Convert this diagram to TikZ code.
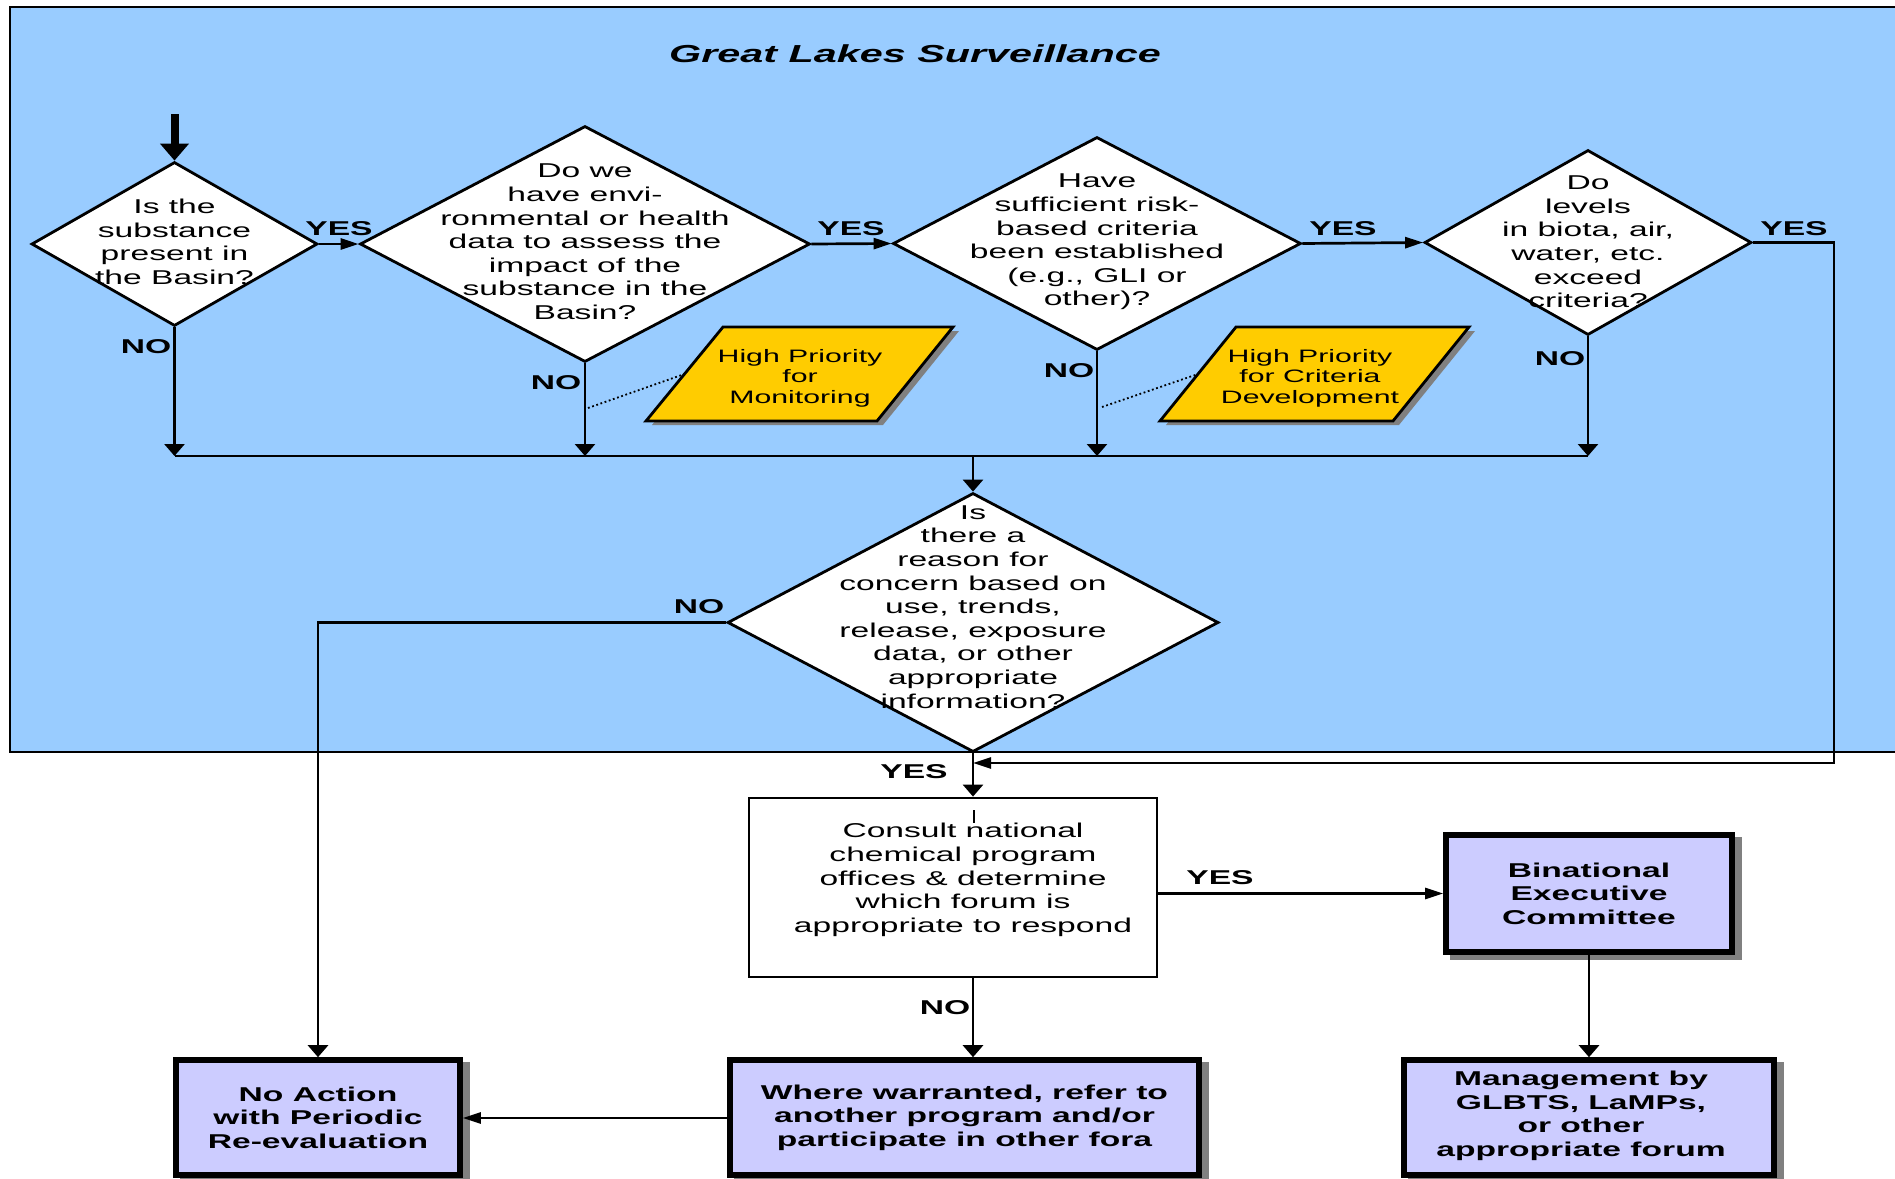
\documentclass[tikz,border=0pt]{standalone}
\usepackage{fontspec}
\setmainfont{Liberation Sans}[FakeStretch=1.68]
\usetikzlibrary{arrows.meta,shapes.geometric,shadows}
\definecolor{lakeblue}{HTML}{99CCFF}
\definecolor{prioyellow}{HTML}{FFCC00}
\definecolor{boxlav}{HTML}{CCCCFF}
\definecolor{shadowgray}{HTML}{808080}
\tikzset{
 conn/.style={line width=1.35pt},
 harr/.style={conn, -{Triangle[length=9pt,width=5.5pt]}},
 varr/.style={conn, -{Triangle[length=6pt,width=10pt]}},
 startarr/.style={line width=4pt, -{Triangle[length=8.5pt,width=14pt]}},
 dia/.style={diamond, draw, fill=white, line width=1.4pt, inner sep=0pt},
 dtext/.style={align=center, font=\fontsize{10}{11.8}\selectfont, inner sep=0pt},
 lbl/.style={font=\bfseries\fontsize{10}{12}\selectfont, inner sep=0pt},
 titlestyle/.style={font=\bfseries\itshape\fontsize{12.3}{14}\selectfont, inner sep=0pt},
 ptext/.style={align=center, font=\fontsize{9}{10.25}\selectfont, inner sep=0pt},
 para/.style={fill=prioyellow, draw=black, line width=1.4pt, line join=miter},
 pshadow/.style={fill=shadowgray},
 bigbox/.style={rectangle, draw, fill=boxlav, line width=2.8pt, align=center,
   font=\bfseries\fontsize{10}{11.75}\selectfont, inner sep=0pt,
   drop shadow={shadow xshift=3.5pt, shadow yshift=-2.5pt, fill=shadowgray, draw=shadowgray, line width=2.8pt, opacity=1}},
 plainbox/.style={rectangle, draw, fill=white, line width=1.4pt, inner sep=0pt},
 dotline/.style={line width=0.9pt, dash pattern=on 0.9pt off 1.3pt},
}
\begin{document}
\begin{tikzpicture}[x=0.5pt,y=-0.5pt]
\useasboundingbox (0,0) rectangle (1895,1178);
% background region
\fill[lakeblue, draw=black, line width=1.4pt] (10,7) rectangle (1920,752);
\node[titlestyle] (ttl) at (915,54) {Great Lakes Surveillance};

% diamonds
\node[dia, minimum width=143pt, minimum height=82pt] (d1) at (174.5,244) {};
\node[dia, minimum width=225pt, minimum height=118pt] (d2) at (585,244) {};
\node[dia, minimum width=204pt, minimum height=106.5pt] (d3) at (1097,243.5) {};
\node[dia, minimum width=163.5pt, minimum height=92.5pt] (d4) at (1588,242.5) {};
\node[dia, minimum width=245.5pt, minimum height=129.5pt] (d5) at (973,622.5) {};

\node[dtext] (t1) at (174.5,242) {Is the\\substance\\present in\\the Basin?};
\node[dtext] (t2) at (585,242) {Do we\\have envi-\\ronmental or health\\data to assess the\\impact of the\\substance in the\\Basin?};
\node[dtext] (t3) at (1097,242) {Have\\sufficient risk-\\based criteria\\been established\\(e.g., GLI or\\other)?};
\node[dtext] (t4) at (1588,242) {Do\\levels\\in biota, air,\\water, etc.\\exceed\\criteria?};
\node[dtext] (t5) at (973,607) {Is\\there a\\reason for\\concern based on\\use, trends,\\release, exposure\\data, or other\\appropriate\\information?};

% start arrow
\coordinate (start) at (174.5,114);
\draw[startarr] (start) -- (d1.north);

% yes arrows along top row
\draw[harr] (d1.east) -- (d2.west);
\draw[harr] (d2.east) -- (d3.west);
\draw[harr] (d3.east) -- (d4.west);
\node[lbl] (y1) at (339,229) {YES};
\node[lbl] (y2) at (851,229) {YES};
\node[lbl] (y3) at (1343,229) {YES};
\node[lbl] (y4) at (1794,229) {YES};

% NO branches to collecting bus
\coordinate (bus) at (0,456);
\draw[varr] (d1.south) -- (d1.south |- bus);
\draw[varr] (d2.south) -- (d2.south |- bus);
\draw[varr] (d3.south) -- (d3.south |- bus);
\draw[varr] (d4.south) -- (d4.south |- bus);
\draw[conn] (d1.south |- bus) -- (d4.south |- bus);
\draw[varr] (d5.north |- bus) -- (d5.north);
\node[lbl] (n1) at (146,347) {NO};
\node[lbl] (n2) at (556,383) {NO};
\node[lbl] (n3) at (1069,371) {NO};
\node[lbl] (n4) at (1560,359) {NO};

% priority parallelograms
\fill[pshadow, xshift=3pt, yshift=-2pt] (723,327) -- (953,327) -- (877,421) -- (646,421) -- cycle;
\filldraw[para] (723,327) -- (953,327) -- (877,421) -- (646,421) -- cycle;
\node[ptext] (p1) at (800,378) {High Priority\\for\\Monitoring};
\fill[pshadow, xshift=3pt, yshift=-2pt] (1236,327) -- (1469,327) -- (1393,421) -- (1160,421) -- cycle;
\filldraw[para] (1236,327) -- (1469,327) -- (1393,421) -- (1160,421) -- cycle;
\node[ptext] (p2) at (1310,378) {High Priority\\for Criteria\\Development};
\coordinate (dot1) at (588,408);
\coordinate (p1w) at (684.5,374);
\coordinate (dot2) at (1102,407);
\coordinate (p2w) at (1198,374);
\draw[dotline] (dot1) -- (p1w);
\draw[dotline] (dot2) -- (p2w);

% lower boxes
\node[plainbox, minimum width=204pt, minimum height=89.5pt] (cons) at (953,887.5) {};
\node[dtext] (ctext) at (963,880) {Consult national\\chemical program\\offices \& determine\\which forum is\\appropriate to respond};
\draw[line width=0.6pt] (974,810) -- (974,823);
\node[bigbox, minimum width=143pt, minimum height=58.5pt] (bec) at (1589,893.5) {Binational\\Executive\\Committee};
\node[bigbox, minimum width=142pt, minimum height=57.5pt] (na) at (318,1117.5) {No Action\\with Periodic\\Re-evaluation};
\node[bigbox, minimum width=234.5pt, minimum height=57.5pt] (wh) at (964.5,1117.5) {Where warranted, refer to\\another program and/or\\participate in other fora};
\node[bigbox, minimum width=185pt, minimum height=57.5pt] (mg) at (1589,1117.5) {};
\node[align=center, font=\bfseries\fontsize{10}{11.75}\selectfont, inner sep=0pt] (mgt) at (1581,1116) {Management by\\GLBTS, LaMPs,\\or other\\appropriate forum};

% lower connectors
\draw[varr] (d5.west) -| (na.north);
\node[lbl] (n5) at (699,607) {NO};
\draw[varr] (d5.south) -- (d5.south |- cons.north);
\node[lbl] (y6) at (914,772) {YES};
\coordinate (ret) at (1834,763);
\draw[harr] (d4.east) -| (ret) -- (d5.south |- ret);
\draw[harr] (cons.east |- bec.west) -- (bec.west);
\node[lbl] (y7) at (1220,878) {YES};
\draw[varr] (d5.south |- cons.south) -- (d5.south |- wh.north);
\node[lbl] (n8) at (945,1008) {NO};
\draw[varr] (bec.south) -- (mg.north);
\coordinate (wl) at (0,1118);
\draw[harr] (wh.west |- wl) -- (na.east |- wl);
\end{tikzpicture}
\end{document}
